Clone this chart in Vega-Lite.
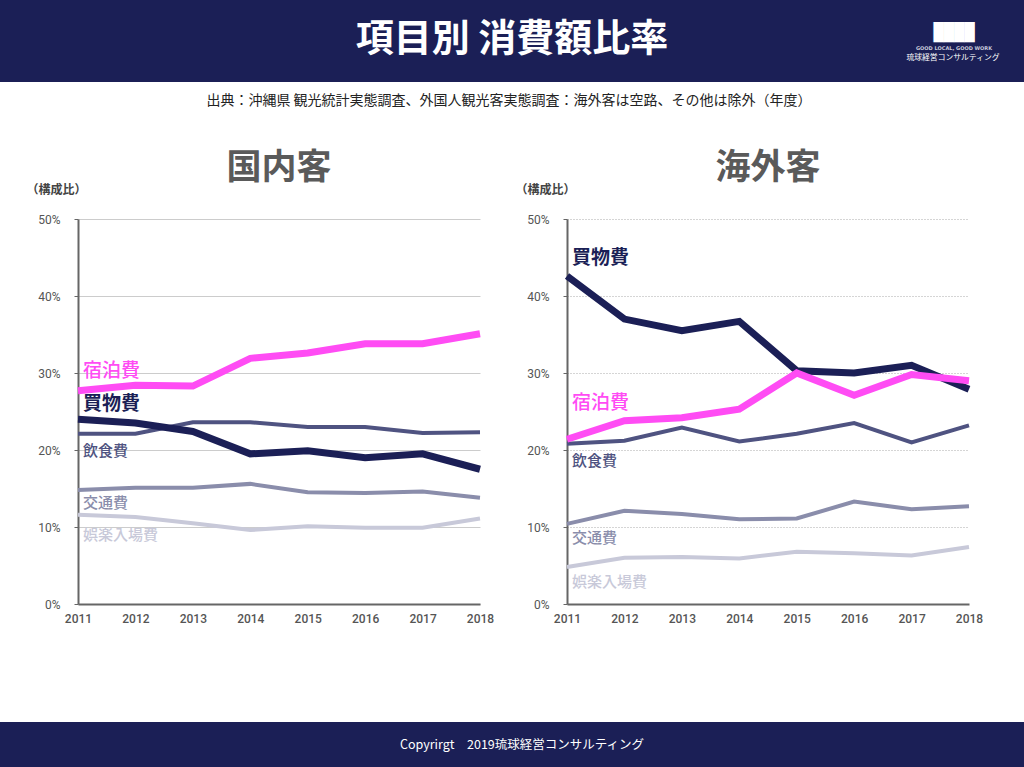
{
  "$schema": "https://vega.github.io/schema/vega-lite/v6.json",
  "padding": 0,
  "autosize": {"type": "pad"},
  "background": "white",
  "config": {"view": {"stroke": null}, "font": "Noto Sans CJK JP"},
  "datasets": {
    "shares": [
      {"panel": "国内客", "series": "娯楽入場費", "year": 2011, "value": 11.6},
      {"panel": "国内客", "series": "娯楽入場費", "year": 2012, "value": 11.3},
      {"panel": "国内客", "series": "娯楽入場費", "year": 2013, "value": 10.5},
      {"panel": "国内客", "series": "娯楽入場費", "year": 2014, "value": 9.6},
      {"panel": "国内客", "series": "娯楽入場費", "year": 2015, "value": 10.1},
      {"panel": "国内客", "series": "娯楽入場費", "year": 2016, "value": 9.9},
      {"panel": "国内客", "series": "娯楽入場費", "year": 2017, "value": 9.9},
      {"panel": "国内客", "series": "娯楽入場費", "year": 2018, "value": 11.1},
      {"panel": "国内客", "series": "交通費", "year": 2011, "value": 14.8},
      {"panel": "国内客", "series": "交通費", "year": 2012, "value": 15.1},
      {"panel": "国内客", "series": "交通費", "year": 2013, "value": 15.1},
      {"panel": "国内客", "series": "交通費", "year": 2014, "value": 15.6},
      {"panel": "国内客", "series": "交通費", "year": 2015, "value": 14.5},
      {"panel": "国内客", "series": "交通費", "year": 2016, "value": 14.4},
      {"panel": "国内客", "series": "交通費", "year": 2017, "value": 14.6},
      {"panel": "国内客", "series": "交通費", "year": 2018, "value": 13.8},
      {"panel": "国内客", "series": "飲食費", "year": 2011, "value": 22.1},
      {"panel": "国内客", "series": "飲食費", "year": 2012, "value": 22.1},
      {"panel": "国内客", "series": "飲食費", "year": 2013, "value": 23.6},
      {"panel": "国内客", "series": "飲食費", "year": 2014, "value": 23.6},
      {"panel": "国内客", "series": "飲食費", "year": 2015, "value": 23.0},
      {"panel": "国内客", "series": "飲食費", "year": 2016, "value": 23.0},
      {"panel": "国内客", "series": "飲食費", "year": 2017, "value": 22.2},
      {"panel": "国内客", "series": "飲食費", "year": 2018, "value": 22.3},
      {"panel": "国内客", "series": "買物費", "year": 2011, "value": 24.0},
      {"panel": "国内客", "series": "買物費", "year": 2012, "value": 23.5},
      {"panel": "国内客", "series": "買物費", "year": 2013, "value": 22.4},
      {"panel": "国内客", "series": "買物費", "year": 2014, "value": 19.5},
      {"panel": "国内客", "series": "買物費", "year": 2015, "value": 19.9},
      {"panel": "国内客", "series": "買物費", "year": 2016, "value": 19.0},
      {"panel": "国内客", "series": "買物費", "year": 2017, "value": 19.5},
      {"panel": "国内客", "series": "買物費", "year": 2018, "value": 17.5},
      {"panel": "国内客", "series": "宿泊費", "year": 2011, "value": 27.7},
      {"panel": "国内客", "series": "宿泊費", "year": 2012, "value": 28.4},
      {"panel": "国内客", "series": "宿泊費", "year": 2013, "value": 28.3},
      {"panel": "国内客", "series": "宿泊費", "year": 2014, "value": 31.9},
      {"panel": "国内客", "series": "宿泊費", "year": 2015, "value": 32.6},
      {"panel": "国内客", "series": "宿泊費", "year": 2016, "value": 33.8},
      {"panel": "国内客", "series": "宿泊費", "year": 2017, "value": 33.8},
      {"panel": "国内客", "series": "宿泊費", "year": 2018, "value": 35.1},
      {"panel": "海外客", "series": "娯楽入場費", "year": 2011, "value": 4.8},
      {"panel": "海外客", "series": "娯楽入場費", "year": 2012, "value": 6.0},
      {"panel": "海外客", "series": "娯楽入場費", "year": 2013, "value": 6.1},
      {"panel": "海外客", "series": "娯楽入場費", "year": 2014, "value": 5.9},
      {"panel": "海外客", "series": "娯楽入場費", "year": 2015, "value": 6.8},
      {"panel": "海外客", "series": "娯楽入場費", "year": 2016, "value": 6.6},
      {"panel": "海外客", "series": "娯楽入場費", "year": 2017, "value": 6.3},
      {"panel": "海外客", "series": "娯楽入場費", "year": 2018, "value": 7.4},
      {"panel": "海外客", "series": "交通費", "year": 2011, "value": 10.4},
      {"panel": "海外客", "series": "交通費", "year": 2012, "value": 12.1},
      {"panel": "海外客", "series": "交通費", "year": 2013, "value": 11.7},
      {"panel": "海外客", "series": "交通費", "year": 2014, "value": 11.0},
      {"panel": "海外客", "series": "交通費", "year": 2015, "value": 11.1},
      {"panel": "海外客", "series": "交通費", "year": 2016, "value": 13.3},
      {"panel": "海外客", "series": "交通費", "year": 2017, "value": 12.3},
      {"panel": "海外客", "series": "交通費", "year": 2018, "value": 12.7},
      {"panel": "海外客", "series": "飲食費", "year": 2011, "value": 20.8},
      {"panel": "海外客", "series": "飲食費", "year": 2012, "value": 21.2},
      {"panel": "海外客", "series": "飲食費", "year": 2013, "value": 22.9},
      {"panel": "海外客", "series": "飲食費", "year": 2014, "value": 21.1},
      {"panel": "海外客", "series": "飲食費", "year": 2015, "value": 22.1},
      {"panel": "海外客", "series": "飲食費", "year": 2016, "value": 23.5},
      {"panel": "海外客", "series": "飲食費", "year": 2017, "value": 21.0},
      {"panel": "海外客", "series": "飲食費", "year": 2018, "value": 23.2},
      {"panel": "海外客", "series": "買物費", "year": 2011, "value": 42.6},
      {"panel": "海外客", "series": "買物費", "year": 2012, "value": 37.0},
      {"panel": "海外客", "series": "買物費", "year": 2013, "value": 35.5},
      {"panel": "海外客", "series": "買物費", "year": 2014, "value": 36.7},
      {"panel": "海外客", "series": "買物費", "year": 2015, "value": 30.3},
      {"panel": "海外客", "series": "買物費", "year": 2016, "value": 30.0},
      {"panel": "海外客", "series": "買物費", "year": 2017, "value": 31.0},
      {"panel": "海外客", "series": "買物費", "year": 2018, "value": 27.9},
      {"panel": "海外客", "series": "宿泊費", "year": 2011, "value": 21.4},
      {"panel": "海外客", "series": "宿泊費", "year": 2012, "value": 23.8},
      {"panel": "海外客", "series": "宿泊費", "year": 2013, "value": 24.2},
      {"panel": "海外客", "series": "宿泊費", "year": 2014, "value": 25.3},
      {"panel": "海外客", "series": "宿泊費", "year": 2015, "value": 30.0},
      {"panel": "海外客", "series": "宿泊費", "year": 2016, "value": 27.1},
      {"panel": "海外客", "series": "宿泊費", "year": 2017, "value": 29.8},
      {"panel": "海外客", "series": "宿泊費", "year": 2018, "value": 29.0}
    ]
  },
  "spacing": 0,
  "vconcat": [
    {
      "width": 1024,
      "height": 82,
      "view": {"fill": "#1b1f56", "stroke": null},
      "layer": [
        {
          "data": {"values": [{"t": "項目別 消費額比率"}]},
          "mark": {"type": "text", "fontSize": 38, "fontWeight": "bold", "color": "white", "baseline": "middle", "dy": -1},
          "encoding": {"text": {"field": "t"}}
        },
        {
          "data": {"values": [{"t": "████"}]},
          "mark": {"type": "text", "font": "DejaVu Sans Mono", "fontSize": 17, "color": "white", "baseline": "middle", "dx": 442, "dy": -8},
          "encoding": {"text": {"field": "t"}}
        },
        {
          "data": {"values": [{"t": "GOOD LOCAL, GOOD WORK"}]},
          "mark": {"type": "text", "font": "DejaVu Sans", "fontSize": 5, "fontWeight": "bold", "color": "#c8c9da", "baseline": "middle", "dx": 442, "dy": 7},
          "encoding": {"text": {"field": "t"}}
        },
        {
          "data": {"values": [{"t": "琉球経営コンサルティング"}]},
          "mark": {"type": "text", "fontSize": 7.8, "color": "white", "baseline": "middle", "dx": 441, "dy": 17},
          "encoding": {"text": {"field": "t"}}
        }
      ]
    },
    {
      "width": 1024,
      "height": 69,
      "data": {"values": [{"t": "出典：沖縄県 観光統計実態調査、外国人観光客実態調査：海外客は空路、その他は除外（年度）"}]},
      "mark": {"type": "text", "fontSize": 14, "color": "#222222", "baseline": "middle", "dx": -3, "dy": -15.5},
      "encoding": {"text": {"field": "t"}}
    },
    {
      "spacing": 21,
      "hconcat": [
        {
          "width": 5,
          "height": 385,
          "data": {"values": []},
          "mark": "text"
        },
        {
          "width": 402,
          "height": 385,
          "title": {"text": "国内客", "fontSize": 35, "fontWeight": "bold", "color": "#5a5a5a", "anchor": "middle", "frame": "group", "offset": -35, "baseline": "bottom", "dy": 3},
          "data": {"name": "shares"},
          "transform": [{"filter": "datum.panel === '国内客'"}],
          "encoding": {
            "x": {"field": "year", "type": "ordinal", "scale": {"type": "point", "padding": 0},
              "axis": {"title": null, "labelAngle": 0, "ticks": false, "tickSize": 0, "labelPadding": 9, "domainColor": "#666666", "domainWidth": 2, "labelFontSize": 12, "labelColor": "#555555", "labelFont": "Roboto", "labelFontWeight": 500, "grid": false}},
            "y": {"field": "value", "type": "quantitative", "scale": {"domain": [0, 50]},
              "axis": {"values": [0, 10, 20, 30, 40, 50], "labelExpr": "datum.value + '%'", "title": "（構成比）", "titleAngle": 0, "titleAlign": "left", "titleBaseline": "middle", "titleX": -52, "titleY": -30, "titleFontSize": 12, "titleFontWeight": "bold", "titleColor": "#444444", "grid": true, "gridColor": "#cccccc", "gridWidth": 1, "domainColor": "#666666", "domainWidth": 2, "tickColor": "#666666", "tickSize": 4, "labelPadding": 14, "labelFontSize": 12, "labelColor": "#555555", "labelFont": "Roboto"}},
            "color": {"field": "series", "type": "nominal", "legend": null,
              "scale": {"domain": ["宿泊費", "買物費", "飲食費", "交通費", "娯楽入場費"], "range": ["#ff4cf4", "#1b1f56", "#4f5381", "#8a8dab", "#c8c9d9"]}}
          },
          "layer": [
            {"transform": [{"filter": {"field": "series", "oneOf": ["娯楽入場費", "交通費", "飲食費"]}}], "mark": {"type": "line", "strokeWidth": 4}},
            {"transform": [{"filter": {"field": "series", "oneOf": ["買物費", "宿泊費"]}}], "mark": {"type": "line", "strokeWidth": 7}},
            {"transform": [{"filter": "datum.series === '宿泊費' && datum.year === 2011"}], "mark": {"type": "text", "align": "left", "baseline": "middle", "dx": 5, "dy": -20, "fontSize": 19, "fontWeight": 500}, "encoding": {"text": {"field": "series"}}},
            {"transform": [{"filter": "datum.series === '買物費' && datum.year === 2011"}], "mark": {"type": "text", "align": "left", "baseline": "middle", "dx": 5, "dy": -15, "fontSize": 19, "fontWeight": "bold"}, "encoding": {"text": {"field": "series"}}},
            {"transform": [{"filter": "datum.series === '飲食費' && datum.year === 2011"}], "mark": {"type": "text", "align": "left", "baseline": "middle", "dx": 5, "dy": 17, "fontSize": 15, "fontWeight": 500}, "encoding": {"text": {"field": "series"}}},
            {"transform": [{"filter": "datum.series === '交通費' && datum.year === 2011"}], "mark": {"type": "text", "align": "left", "baseline": "middle", "dx": 5, "dy": 13, "fontSize": 15, "fontWeight": 500}, "encoding": {"text": {"field": "series"}}},
            {"transform": [{"filter": "datum.series === '娯楽入場費' && datum.year === 2011"}], "mark": {"type": "text", "align": "left", "baseline": "middle", "dx": 5, "dy": 20, "fontSize": 15, "fontWeight": 500}, "encoding": {"text": {"field": "series"}}}
          ]
        },
        {
          "width": 402,
          "height": 385,
          "title": {"text": "海外客", "fontSize": 35, "fontWeight": "bold", "color": "#5a5a5a", "anchor": "middle", "frame": "group", "offset": -35, "baseline": "bottom", "dy": 3},
          "data": {"name": "shares"},
          "transform": [{"filter": "datum.panel === '海外客'"}],
          "encoding": {
            "x": {"field": "year", "type": "ordinal", "scale": {"type": "point", "padding": 0},
              "axis": {"title": null, "labelAngle": 0, "ticks": false, "tickSize": 0, "labelPadding": 9, "domainColor": "#666666", "domainWidth": 2, "labelFontSize": 12, "labelColor": "#555555", "labelFont": "Roboto", "labelFontWeight": 500, "grid": false}},
            "y": {"field": "value", "type": "quantitative", "scale": {"domain": [0, 50]},
              "axis": {"values": [0, 10, 20, 30, 40, 50], "labelExpr": "datum.value + '%'", "title": "（構成比）", "titleAngle": 0, "titleAlign": "left", "titleBaseline": "middle", "titleX": -52, "titleY": -30, "titleFontSize": 12, "titleFontWeight": "bold", "titleColor": "#444444", "grid": true, "gridColor": "#aaaaaa", "gridDash": [1, 2], "gridWidth": 1, "domainColor": "#666666", "domainWidth": 2, "tickColor": "#666666", "tickSize": 4, "labelPadding": 14, "labelFontSize": 12, "labelColor": "#555555", "labelFont": "Roboto"}},
            "color": {"field": "series", "type": "nominal", "legend": null,
              "scale": {"domain": ["宿泊費", "買物費", "飲食費", "交通費", "娯楽入場費"], "range": ["#ff4cf4", "#1b1f56", "#4f5381", "#8a8dab", "#c8c9d9"]}}
          },
          "layer": [
            {"transform": [{"filter": {"field": "series", "oneOf": ["娯楽入場費", "交通費", "飲食費"]}}], "mark": {"type": "line", "strokeWidth": 4}},
            {"transform": [{"filter": {"field": "series", "oneOf": ["買物費", "宿泊費"]}}], "mark": {"type": "line", "strokeWidth": 7}},
            {"transform": [{"filter": "datum.series === '買物費' && datum.year === 2011"}], "mark": {"type": "text", "align": "left", "baseline": "middle", "dx": 5, "dy": -18, "fontSize": 19, "fontWeight": "bold"}, "encoding": {"text": {"field": "series"}}},
            {"transform": [{"filter": "datum.series === '宿泊費' && datum.year === 2011"}], "mark": {"type": "text", "align": "left", "baseline": "middle", "dx": 5, "dy": -36, "fontSize": 19, "fontWeight": 500}, "encoding": {"text": {"field": "series"}}},
            {"transform": [{"filter": "datum.series === '飲食費' && datum.year === 2011"}], "mark": {"type": "text", "align": "left", "baseline": "middle", "dx": 5, "dy": 17, "fontSize": 15, "fontWeight": 500}, "encoding": {"text": {"field": "series"}}},
            {"transform": [{"filter": "datum.series === '交通費' && datum.year === 2011"}], "mark": {"type": "text", "align": "left", "baseline": "middle", "dx": 5, "dy": 14, "fontSize": 15, "fontWeight": 500}, "encoding": {"text": {"field": "series"}}},
            {"transform": [{"filter": "datum.series === '娯楽入場費' && datum.year === 2011"}], "mark": {"type": "text", "align": "left", "baseline": "middle", "dx": 5, "dy": 15, "fontSize": 15, "fontWeight": 500}, "encoding": {"text": {"field": "series"}}}
          ]
        }
      ]
    },
    {
      "width": 1024,
      "height": 98,
      "data": {"values": []},
      "mark": "text"
    },
    {
      "width": 1024,
      "height": 45,
      "view": {"fill": "#1b1f56", "stroke": null},
      "data": {"values": [{"t": "Copyrirgt　2019琉球経営コンサルティング"}]},
      "mark": {"type": "text", "fontSize": 12.5, "color": "white", "baseline": "middle", "dx": 10},
      "encoding": {"text": {"field": "t"}}
    }
  ]
}
